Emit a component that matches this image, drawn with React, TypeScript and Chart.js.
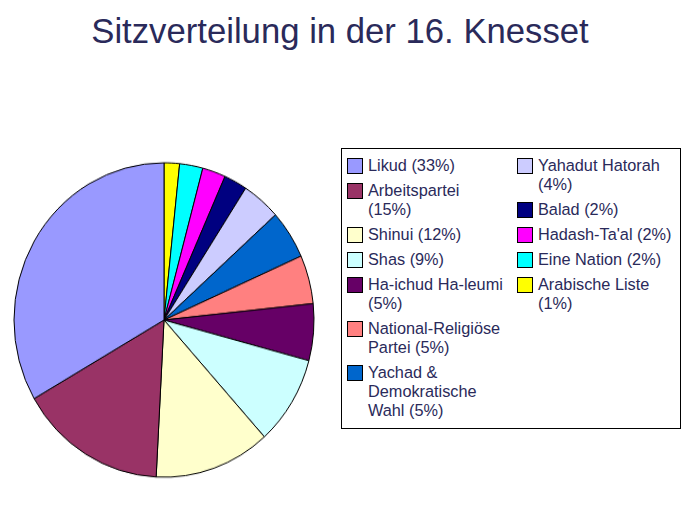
import React, { useEffect, useRef } from "react";
import { Chart, registerables } from "chart.js";

Chart.register(...registerables);

const TITLE = "Sitzverteilung in der 16. Knesset";

const parties = [
  "Likud",
  "Arbeitspartei",
  "Shinui",
  "Shas",
  "Ha-ichud Ha-leumi",
  "National-Religiöse Partei",
  "Yachad & Demokratische Wahl",
  "Yahadut Hatorah",
  "Balad",
  "Hadash-Ta'al",
  "Eine Nation",
  "Arabische Liste",
];

const seats = [40, 19, 15, 11, 7, 6, 6, 5, 3, 3, 3, 2];

const percents = ["33%", "15%", "12%", "9%", "5%", "5%", "5%", "4%", "2%", "2%", "2%", "1%"];

// legend text as it wraps in the reference
const legendLabels = [
  "Likud (33%)",
  "Arbeitspartei\n(15%)",
  "Shinui (12%)",
  "Shas (9%)",
  "Ha-ichud Ha-leumi\n(5%)",
  "National-Religiöse\nPartei (5%)",
  "Yachad &\nDemokratische\nWahl (5%)",
  "Yahadut Hatorah\n(4%)",
  "Balad (2%)",
  "Hadash-Ta'al (2%)",
  "Eine Nation (2%)",
  "Arabische Liste\n(1%)",
];

const colors = [
  "#9999FF",
  "#993366",
  "#FFFFCC",
  "#CCFFFF",
  "#660066",
  "#FF8080",
  "#0066CC",
  "#CCCCFF",
  "#000080",
  "#FF00FF",
  "#00FFFF",
  "#FFFF00",
];

const TEXT_COLOR = "#2a2a5a";
const FONT = "'Liberation Sans', Arial, Helvetica, sans-serif";

function LegendItem({ i }: { i: number }) {
  return (
    <div style={{ display: "flex", alignItems: "flex-start", marginBottom: 6 }}>
      <div
        style={{
          width: 16,
          height: 16,
          boxSizing: "border-box",
          border: "1px solid #000",
          background: colors[i],
          marginTop: 2,
          marginRight: 5,
          flex: "0 0 auto",
        }}
      />
      <div style={{ whiteSpace: "pre", lineHeight: "19px" }} title={parties[i] + " " + percents[i]}>
        {legendLabels[i]}
      </div>
    </div>
  );
}

export default function App() {
  const canvasRef = useRef<HTMLCanvasElement | null>(null);

  useEffect(() => {
    if (!canvasRef.current) return;
    // the reference runs counter-clockwise from 12 o'clock; Chart.js draws clockwise
    const order = parties.map((_, i) => i).reverse();
    const chart = new Chart(canvasRef.current, {
      type: "pie",
      data: {
        labels: order.map((i) => parties[i]),
        datasets: [
          {
            data: order.map((i) => seats[i]),
            backgroundColor: order.map((i) => colors[i]),
            borderColor: "#000000",
            borderWidth: 1,
          },
        ],
      },
      options: {
        animation: false,
        responsive: false,
        devicePixelRatio: 1,
        radius: 150,
        layout: { padding: 0 },
        plugins: {
          legend: { display: false },
          tooltip: { enabled: false },
          title: { display: false },
        },
      },
    });
    return () => chart.destroy();
  }, []);

  const leftIdx = [0, 1, 2, 3, 4, 5, 6];
  const rightIdx = [7, 8, 9, 10, 11];

  return (
    <div
      style={{
        position: "absolute",
        left: 0,
        top: 0,
        width: 689,
        height: 517,
        background: "#ffffff",
        fontFamily: FONT,
        color: TEXT_COLOR,
        overflow: "hidden",
      }}
    >
      <div
        style={{
          position: "absolute",
          left: 0,
          top: 11,
          width: 680,
          textAlign: "center",
          fontSize: 34.7,
          lineHeight: "40px",
          whiteSpace: "nowrap",
        }}
      >
        {TITLE}
      </div>

      <div
        style={{
          position: "absolute",
          left: 12,
          top: 168,
          width: 304,
          height: 304,
          transform: "scaleY(1.048)",
          transformOrigin: "center center",
        }}
      >
        <canvas ref={canvasRef} width={304} height={304} style={{ display: "block" }} />
      </div>

      <div
        style={{
          position: "absolute",
          left: 341,
          top: 148,
          width: 340,
          height: 281,
          boxSizing: "border-box",
          border: "1px solid #000",
        }}
      />

      <div style={{ position: "absolute", left: 347, top: 155.5, fontSize: 16.3 }}>
        {leftIdx.map((i) => (
          <LegendItem key={i} i={i} />
        ))}
      </div>
      <div style={{ position: "absolute", left: 517, top: 155.5, fontSize: 16.3 }}>
        {rightIdx.map((i) => (
          <LegendItem key={i} i={i} />
        ))}
      </div>
    </div>
  );
}
